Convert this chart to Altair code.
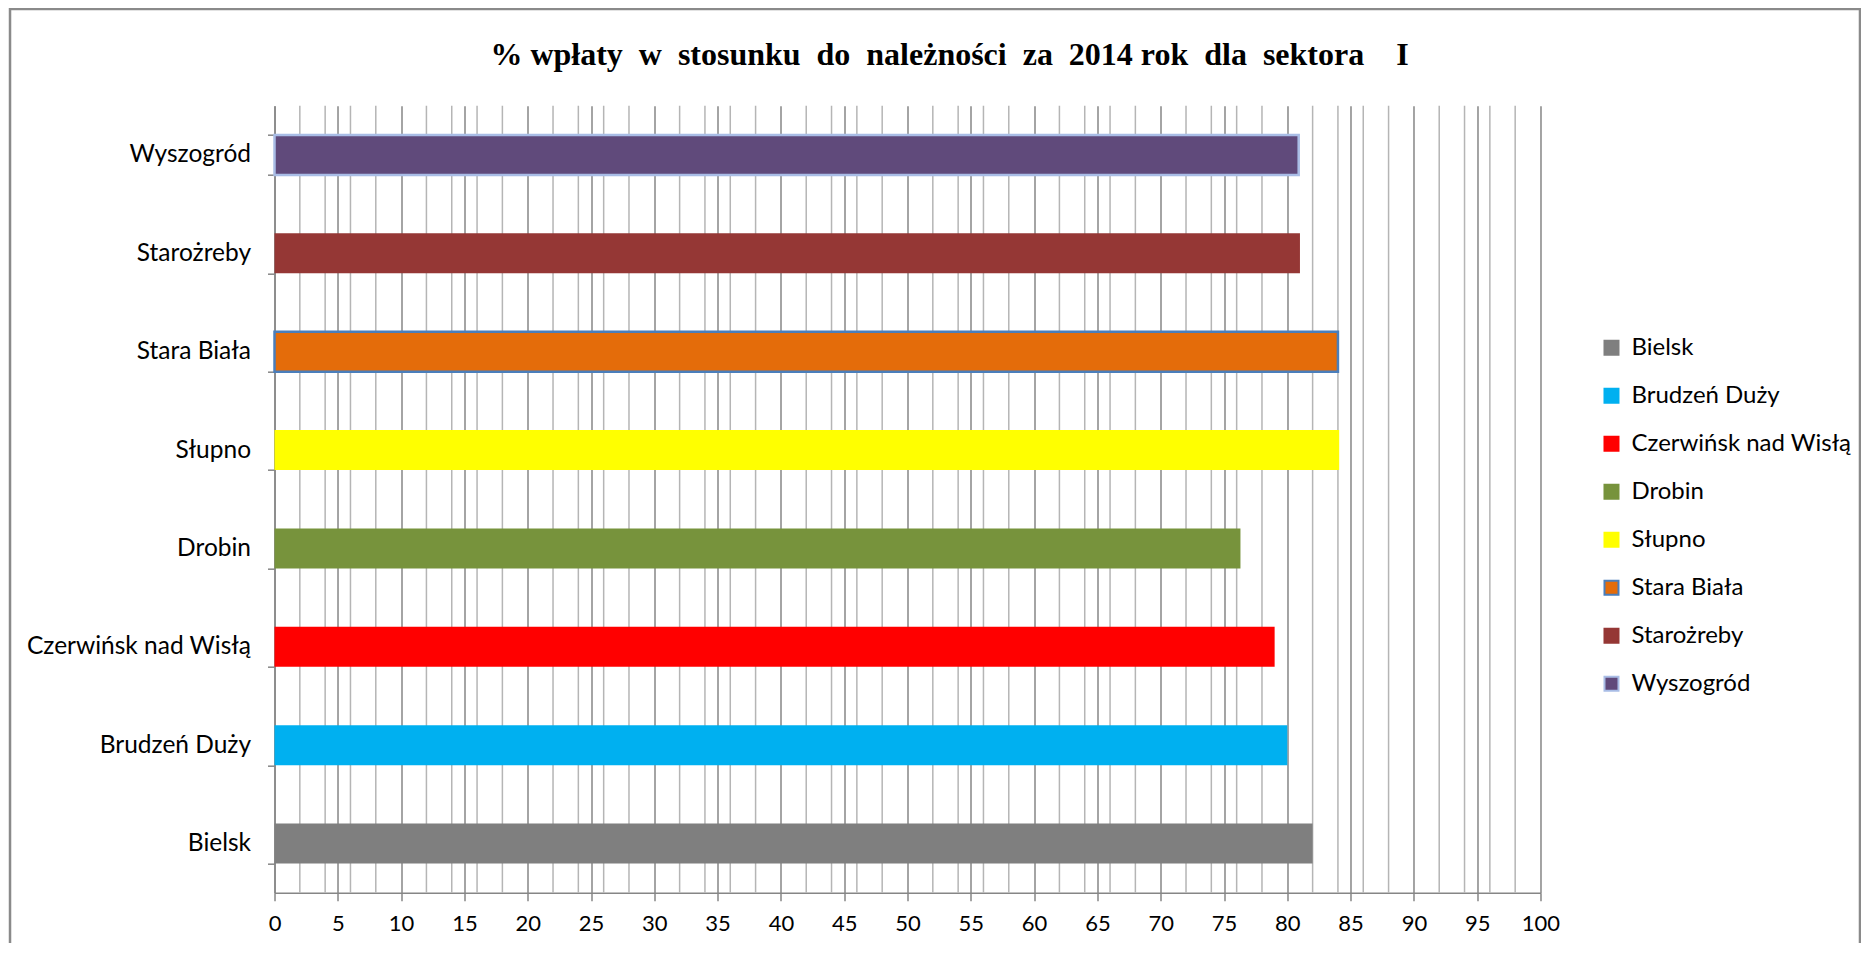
import altair as alt
import pandas as pd

# ---- data ----
names = ["Bielsk", "Brudzeń Duży", "Czerwińsk nad Wisłą", "Drobin",
         "Słupno", "Stara Biała", "Starożreby", "Wyszogród"]
values = [82.0, 80.0, 79.0, 76.3, 84.1, 84.0, 81.0, 80.9]
fill_colors = ["#7f7f7f", "#00b0f0", "#ff0000", "#77933c",
               "#ffff00", "#e46c0a", "#953735", "#604a7b"]
stroke_colors = ["#7f7f7f", "#00b0f0", "#ff0000", "#77933c",
                 "#ffff00", "#4a7ebb", "#953735", "#a9bde6"]
outlined = ["Stara Biała", "Wyszogród"]
y_order = list(reversed(names))
major_ticks = list(range(0, 101, 5))
minor_ticks = [2, 4, 6, 8, 12, 14, 16, 18, 22, 24, 26, 28, 32, 34, 36, 38,
               42, 44, 46, 48, 52, 54, 56, 58, 62, 64, 66, 68, 72, 74, 76, 78,
               82, 84, 86, 88, 92, 94, 96, 98]
title_words = ["% wpłaty", "w", "stosunku", "do", "należności", "za",
               "2014 rok", "dla", "sektora"]
title_text = " \u00a0".join(title_words) + "\u00a0" * 3 + " I"

df = pd.DataFrame({"gmina": names, "procent": values})
grid_df = pd.DataFrame({"v": minor_ticks})

W, H = 1266, 787
x_scale = alt.Scale(domain=[0, 100], nice=False, zero=True)
x_axis = alt.Axis(values=major_ticks, grid=True, gridColor="#868686",
                  gridWidth=1.5, domainColor="#868686", domainWidth=1.5,
                  tickColor="#868686", tickSize=8, tickWidth=1.5,
                  labelFont="Lato", labelFontSize=22, labelColor="#000000",
                  labelPadding=13, labelFlush=False, format="d")

frame = alt.Chart(pd.DataFrame({"k": [0]})).mark_rect(
    fill=None, stroke="#8a8a8a", strokeWidth=2.5
).encode(
    x=alt.value(-264.5), x2=alt.value(1585.5),
    y=alt.value(-96.7), y2=alt.value(880)
)

minor = alt.Chart(grid_df).mark_rule(color="#b5b5b5", strokeWidth=1.5).encode(
    x=alt.X("v:Q", scale=x_scale, axis=x_axis, title=None)
)

legend_spec = alt.Legend(
    title=None, orient="none", legendX=1325, legendY=230,
    symbolType="square", symbolSize=196, symbolStrokeWidth=2,
    labelFont="Lato", labelFontSize=24, labelColor="#000000",
    labelLimit=400, labelOffset=8, rowPadding=24, padding=0
)

bars = alt.Chart(df).mark_bar(size=40).encode(
    x=alt.X("procent:Q", scale=x_scale, title=None, axis=x_axis),
    y=alt.Y("gmina:N", sort=y_order, title=None,
            scale=alt.Scale(paddingInner=0.59, paddingOuter=0.295),
            axis=alt.Axis(tickBand="extent", grid=False, domainColor="#868686",
                          domainWidth=1.5, tickColor="#868686", tickSize=7,
                          tickWidth=1.5, labelFont="Lato", labelFontSize=24.5,
                          labelColor="#000000", labelPadding=17, labelLimit=400)),
    color=alt.Color("gmina:N", scale=alt.Scale(domain=names, range=fill_colors),
                    legend=legend_spec),
    stroke=alt.Stroke("gmina:N", scale=alt.Scale(domain=names, range=stroke_colors),
                      legend=legend_spec),
    strokeWidth=alt.condition(alt.FieldOneOfPredicate(field="gmina", oneOf=outlined),
                              alt.value(2.5), alt.value(0)),
)

chart = alt.layer(frame, minor, bars).properties(
    width=W, height=H,
    title=alt.TitleParams(title_text, font="Liberation Serif", fontSize=32,
                          fontWeight="bold", color="#000000", anchor="middle",
                          frame="group", dx=42, baseline="middle", offset=-79),
    autosize=alt.AutoSizeParams(type="none"),
    padding={"left": 266.5, "top": 97.7, "right": 320, "bottom": 50},
    background="#ffffff",
).configure_view(stroke=None)

chart.save("out.html", embed_options={"renderer": "svg", "actions": False})
